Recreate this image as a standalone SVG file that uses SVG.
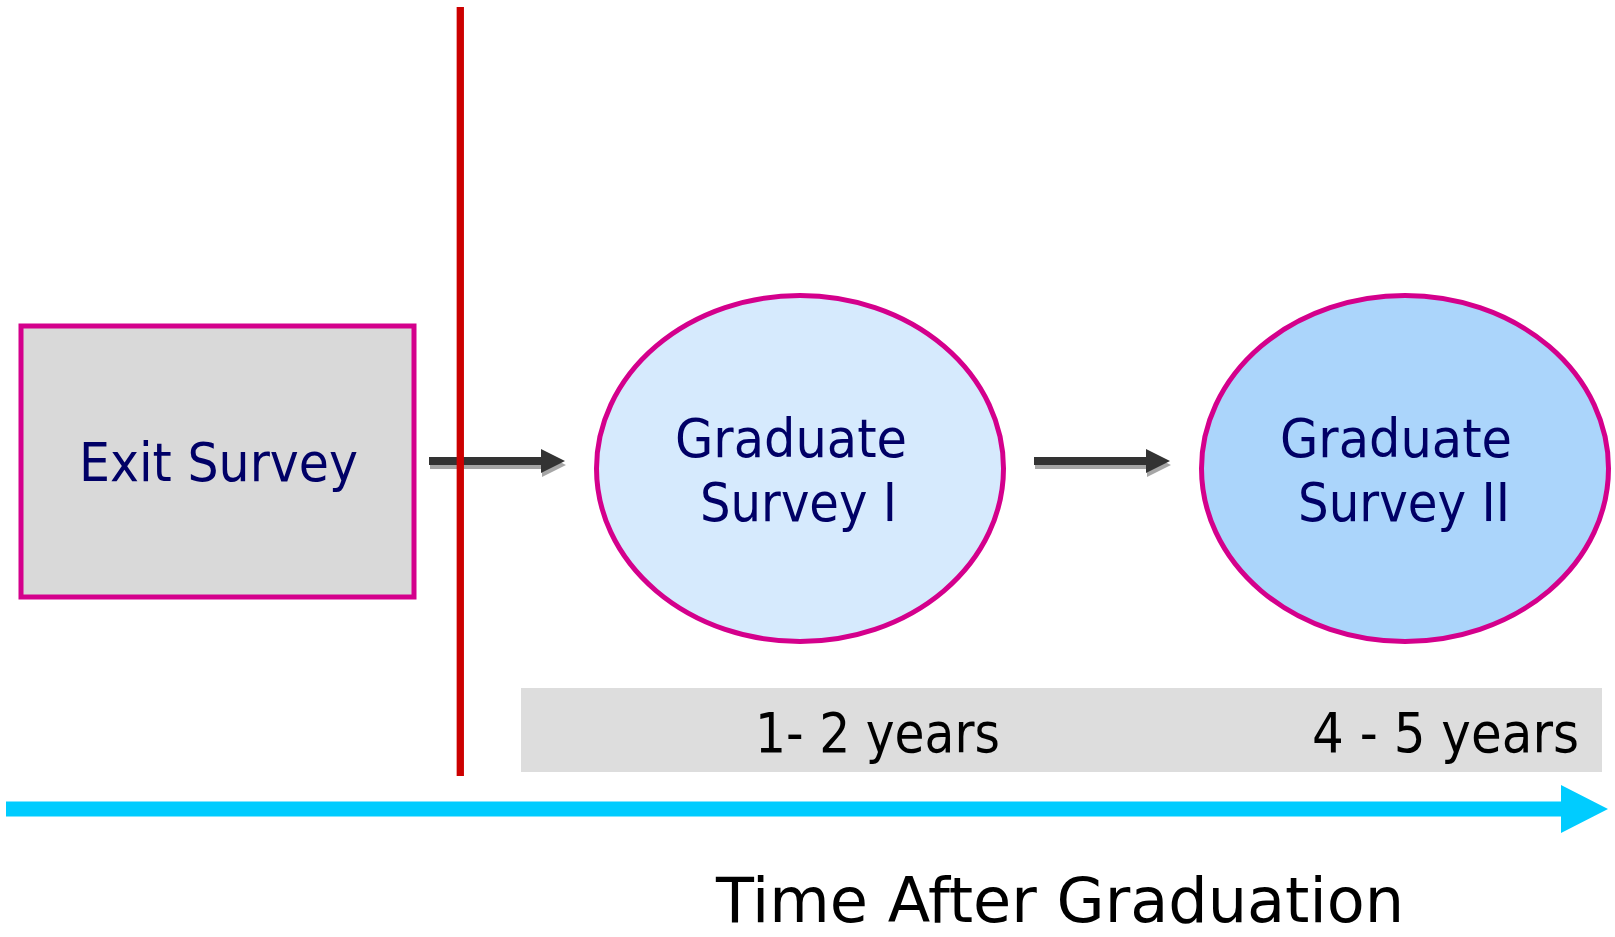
<svg xmlns="http://www.w3.org/2000/svg" width="1615" height="937" viewBox="0 0 1615 937">
  <style>
    .node-stroke { stroke: #d4008c; stroke-width: 5; }
    .label { font-family: "DejaVu Sans", "Liberation Sans", sans-serif; font-size: 54px; fill: #000066; text-anchor: middle; }
    .period { font-family: "DejaVu Sans", "Liberation Sans", sans-serif; font-size: 56px; fill: #000000; }
    .axis-title { font-family: "DejaVu Sans", "Liberation Sans", sans-serif; font-size: 62px; fill: #000000; }
    .arrow-body { fill: #333333; }
    .arrow-shadow { fill: #a6a6a6; }
  </style>
  <defs>
    <!-- block arrow shape, origin at the tail centre -->
    <path id="blockArrow" d="M0,-4 L112,-4 L112,-12 L136,0 L112,12 L112,4 L0,4 Z"/>
  </defs>

  <!-- background -->
  <rect x="0" y="0" width="1615" height="937" fill="#ffffff"/>

  <!-- period band -->
  <g id="period-band">
    <rect x="521" y="688" width="1081" height="84" fill="#dddddd"/>
    <text class="period" x="755" y="752" textLength="245" lengthAdjust="spacingAndGlyphs">1- 2 years</text>
    <text class="period" x="1312" y="752" textLength="267" lengthAdjust="spacingAndGlyphs">4 - 5 years</text>
  </g>

  <!-- time axis -->
  <g id="time-axis">
    <path d="M6,801.5 L1561,801.5 L1561,785 L1608,809 L1561,833 L1561,816.5 L6,816.5 Z" fill="#00ccff"/>
    <text class="axis-title" x="716" y="922" textLength="688" lengthAdjust="spacingAndGlyphs">Time After Graduation</text>
  </g>

  <!-- nodes -->
  <g id="exit-survey">
    <rect x="21" y="326" width="393" height="271" fill="#d9d9d9" class="node-stroke"/>
    <text class="label" x="218.5" y="481" textLength="279" lengthAdjust="spacingAndGlyphs">Exit Survey</text>
  </g>

  <g id="graduate-survey-1">
    <ellipse cx="800" cy="468.5" rx="203.5" ry="173" fill="#d6eafd" class="node-stroke"/>
    <text class="label" x="791" y="457" textLength="232" lengthAdjust="spacingAndGlyphs">Graduate</text>
    <text class="label" x="798.5" y="521" textLength="197" lengthAdjust="spacingAndGlyphs">Survey I</text>
  </g>

  <g id="graduate-survey-2">
    <ellipse cx="1405" cy="468.5" rx="203.5" ry="173" fill="#abd5fb" class="node-stroke"/>
    <text class="label" x="1396" y="457" textLength="232" lengthAdjust="spacingAndGlyphs">Graduate</text>
    <text class="label" x="1404" y="521" textLength="212" lengthAdjust="spacingAndGlyphs">Survey II</text>
  </g>

  <!-- connectors -->
  <g id="connectors">
    <use href="#blockArrow" class="arrow-shadow" transform="translate(430,465)"/>
    <use href="#blockArrow" class="arrow-body" transform="translate(429,461)"/>
    <use href="#blockArrow" class="arrow-shadow" transform="translate(1035,465)"/>
    <use href="#blockArrow" class="arrow-body" transform="translate(1034,461)"/>
  </g>

  <!-- graduation marker -->
  <g id="graduation-line">
    <line x1="460.3" y1="7" x2="460.3" y2="776" stroke="#cc0000" stroke-width="7.3"/>
  </g>
</svg>
